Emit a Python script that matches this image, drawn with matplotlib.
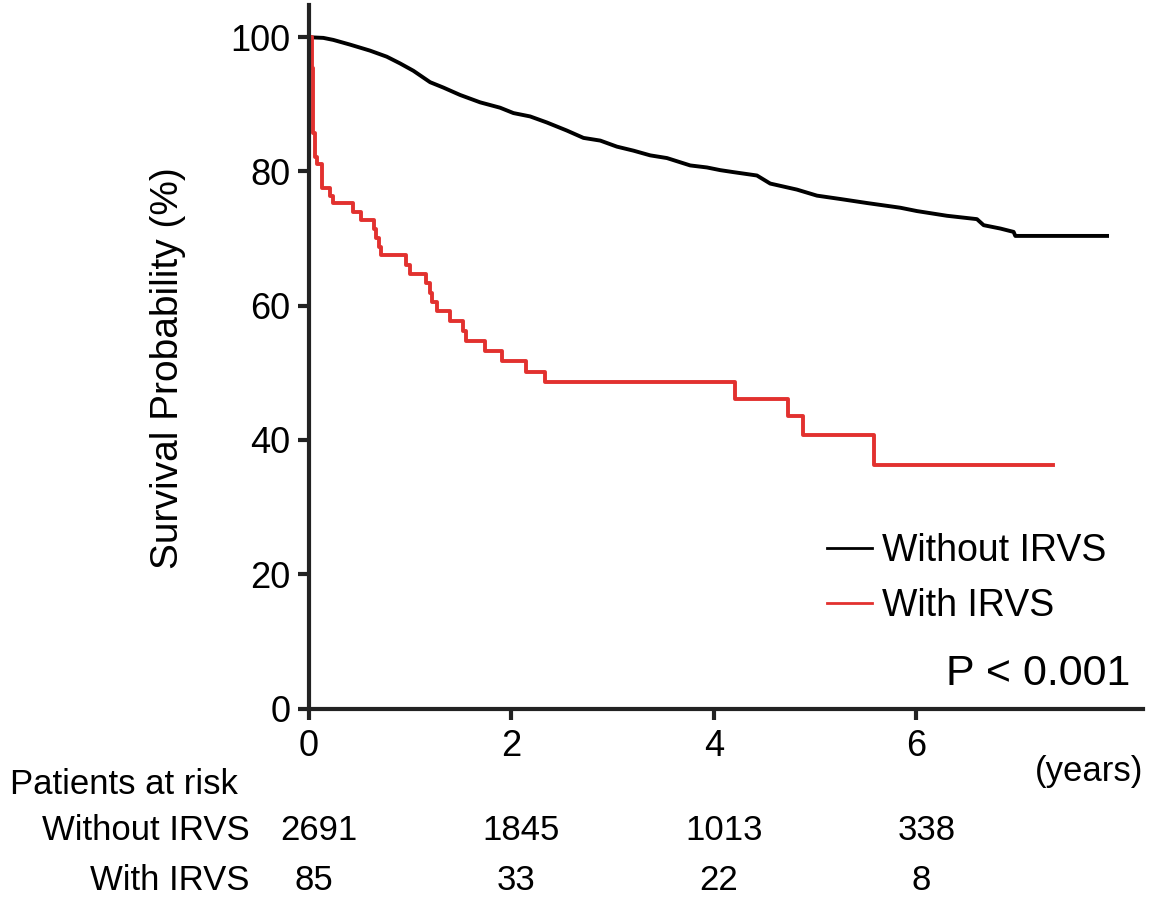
import matplotlib
matplotlib.use("Agg")
import matplotlib.pyplot as plt
import matplotlib.transforms as mtransforms

# Kaplan-Meier curves (years, survival %)
t_without = [0.0, 0.145, 0.243, 0.408, 0.606, 0.771, 0.902, 1.034, 1.199, 1.330,
             1.495, 1.693, 1.890, 2.022, 2.187, 2.352, 2.549, 2.714, 2.880, 3.044,
             3.208, 3.373, 3.538, 3.768, 3.933, 4.064, 4.196, 4.427, 4.558, 4.822,
             5.020, 5.250, 5.514, 5.843, 6.008, 6.304, 6.600, 6.666, 6.831, 6.962,
             6.979, 7.885]
s_without = [100.0, 99.9, 99.6, 98.9, 98.0, 97.1, 96.1, 95.0, 93.3, 92.5,
             91.4, 90.3, 89.5, 88.7, 88.2, 87.3, 86.1, 85.0, 84.6, 83.7,
             83.1, 82.4, 82.0, 80.9, 80.6, 80.2, 79.9, 79.4, 78.2, 77.3,
             76.4, 75.9, 75.3, 74.6, 74.1, 73.4, 72.9, 72.0, 71.5, 71.0,
             70.4, 70.4]

t_with = [0.0, 0.03, 0.04, 0.065, 0.085, 0.128, 0.21, 0.243, 0.44, 0.517,
          0.645, 0.665, 0.695, 0.714, 0.96, 1.0, 1.16, 1.2, 1.22, 1.265,
          1.40, 1.52, 1.55, 1.74, 1.91, 2.15, 2.33, 4.21, 4.73, 4.88,
          5.58, 7.35]
s_with = [100.0, 95.4, 85.8, 82.2, 81.1, 77.6, 76.4, 75.3, 74.0, 72.7,
          71.5, 70.1, 68.7, 67.5, 66.1, 64.8, 63.4, 61.9, 60.5, 59.2,
          57.7, 56.2, 54.8, 53.3, 51.8, 50.2, 48.6, 46.1, 43.5, 40.7,
          36.2, 36.2]

risk_times = [0, 2, 4, 6]
risk_without = [2691, 1845, 1013, 338]
risk_with = [85, 33, 22, 8]

RED = "#e2312f"

plt.rcParams['font.family'] = ['Liberation Sans', 'DejaVu Sans']

fig = plt.figure(figsize=(11.52, 8.99), dpi=100)
ax = fig.add_axes([308.7 / 1152, 1 - 708.5 / 899, (1143 - 308.7) / 1152, (708.5 - 5) / 899])

# the black curve has many tiny steps, so it reads as a smooth line
ax.plot(t_without, s_without, color='black', lw=2.8, label='Without IRVS')
ax.step(t_with, s_with, where='post', color=RED, lw=2.8, label='With IRVS')

ax.set_xlim(0, 8.24)
ax.set_ylim(0, 104.8)
ax.set_xticks([0, 2, 4, 6])
ax.set_yticks([0, 20, 40, 60, 80, 100])
for side in ['top', 'right']:
    ax.spines[side].set_visible(False)
for side in ['left', 'bottom']:
    ax.spines[side].set_linewidth(3)
    ax.spines[side].set_color('#222222')
ax.tick_params(axis='both', direction='out', length=8, width=3, color='#222222',
               labelsize=26, pad=5)
ax.tick_params(axis='x', pad=7)

fig.text(168 / 1152, 1 - 368 / 899, 'Survival Probability (%)', rotation=90,
         ha='center', va='center', fontsize=28)

leg = ax.legend(loc='upper left', bbox_to_anchor=(827 / 1152, 1 - 533 / 899),
                bbox_transform=fig.transFigure, frameon=False, fontsize=27,
                handlelength=1.2, handletextpad=0.28, labelspacing=0.52,
                borderpad=0, borderaxespad=0)
for h in leg.get_lines():
    h.set_linewidth(2)

fig.text(1130 / 1152, 1 - 674 / 899, 'P < 0.001', ha='right', va='center', fontsize=31)

# number at risk table
fig.text(1143 / 1152, 1 - 772 / 899, '(years)', ha='right', va='center', fontsize=25)
fig.text(10 / 1152, 1 - 785 / 899, 'Patients at risk', ha='left', va='center', fontsize=25)
fig.text(250 / 1152, 1 - 830 / 899, 'Without IRVS', ha='right', va='center', fontsize=25)
fig.text(250 / 1152, 1 - 880 / 899, 'With IRVS', ha='right', va='center', fontsize=25)

trans = mtransforms.blended_transform_factory(ax.transData, fig.transFigure)
for t, n1, n2 in zip(risk_times, risk_without, risk_with):
    ax.text(t + 0.1, 1 - 830 / 899, str(n1), transform=trans, ha='center', va='center',
            fontsize=25, clip_on=False)
    ax.text(t + 0.05, 1 - 880 / 899, str(n2), transform=trans, ha='center', va='center',
            fontsize=25, clip_on=False)

fig.savefig('out.png', dpi=100)
